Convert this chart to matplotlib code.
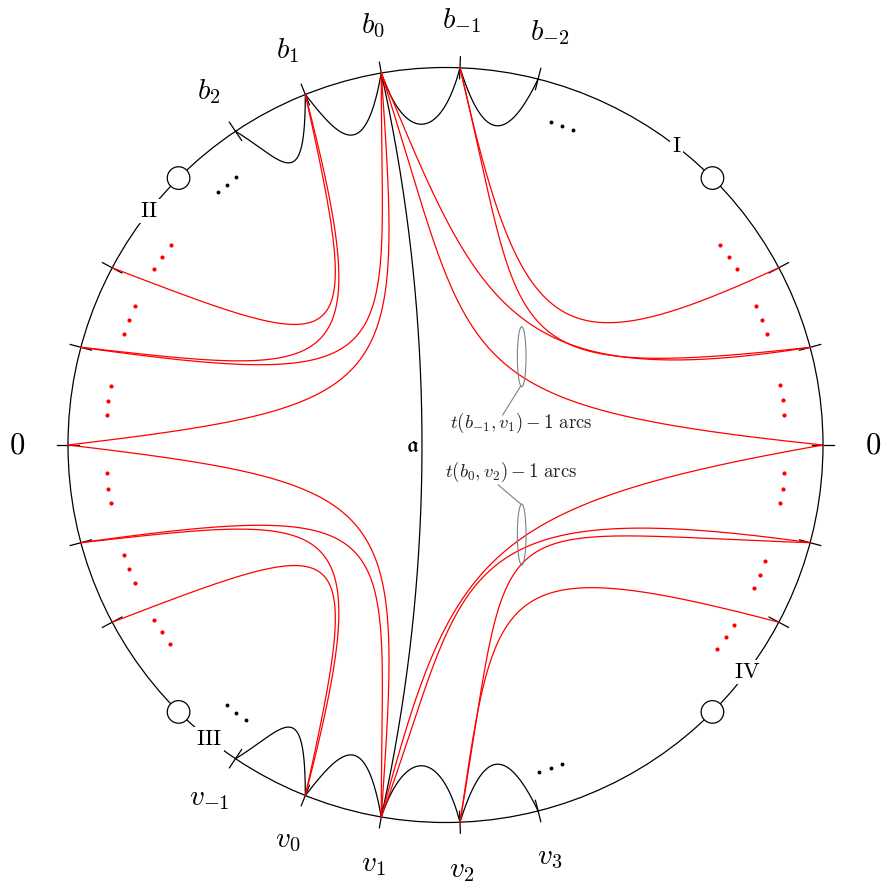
import numpy as np
import matplotlib.pyplot as plt
from matplotlib.patches import Circle, Ellipse

plt.rcParams['mathtext.fontset'] = 'cm'

R = 377.5

# marked points on the boundary circle (degrees)
b_labels = ['$b_2$', '$b_1$', '$b_0$', '$b_{-1}$', '$b_{-2}$']
b_angles = [123.8, 111.8, 99.8, 87.8, 75.8]
v_labels = ['$v_{-1}$', '$v_0$', '$v_1$', '$v_2$', '$v_3$']
v_angles = [236.2, 248.2, 260.2, 272.2, 284.2]
side_angles = [152, 165, 180, 195, 208, 28, 15, 0, -15, -28]
zero_angles = [180, 0]
puncture_angles = [45, 135, 225, 315]
roman_labels = ['I', 'II', 'III', 'IV']
roman_angles = [52.3, 141.7, 231.2, 323]

black_dots = [[68, 70, 72], [128, 130, 132], [230, 232, 234], [286, 288, 290]]
red_dots = [[31.1, 33.6, 36.1], [19.0, 21.6, 24.2], [5.1, 7.6, 10.2],
            [-4.8, -7.4, -9.9], [-19.9, -22.4, -24.9], [-31.9, -34.4, -36.9],
            [143.9, 146.4, 148.9], [155.8, 158.4, 161.0], [170.0, 172.5, 175.0],
            [184.8, 187.4, 189.9], [198.9, 201.4, 204.0], [211.0, 213.4, 215.9]]

# arcs as (from, to, out dir, in dir, out length, in length)
top_loops = [(123.8, 111.8, -31, -90, 55, 105),
             (111.8, 99.8, -52, -100, 55, 95),
             (99.8, 87.8, -71, -104.7, 75, 75),
             (87.8, 75.8, -72.6, -115.8, 75, 75)]
arc_a = (99.8, 260.2, -77.5, 77.5, 251, 251)
left_red = [(111.8, 152, -77.5, -21, 276, 257),
            (111.8, 165, -75.5, -6.4, 300, 260),
            (99.8, 165, -90, -8, 286, 340),
            (99.8, 180, -86, 6.8, 318, 334)]
upper_right_red = [(87.8, 28, -77.3, 204.7, 285, 242),
                   (87.8, 15, -76.5, 186.3, 285, 320),
                   (99.8, 15, -67.4, 189, 257, 303),
                   (99.8, 0, -72.3, 174, 311, 381)]
lower_right_red = [(272.2, -28, 81.5, 165.3, 240, 294),
                   (272.2, -15, 80.5, 178, 328, 336),
                   (260.2, -15, 70, 172, 257, 372),
                   (260.2, 0, 75, 190, 272, 347)]


def pt(a, r=R):
    a = np.radians(a)
    return np.array([r * np.cos(a), r * np.sin(a)])


def mirror(arc):
    a0, a1, o, i, l0, l1 = arc
    return (-a0, -a1, -o, -i, l0, l1)


def bezier(arc, n=300):
    a0, a1, o, i, l0, l1 = arc
    p0, p3 = pt(a0), pt(a1)
    p1 = p0 + l0 * np.array([np.cos(np.radians(o)), np.sin(np.radians(o))])
    p2 = p3 + l1 * np.array([np.cos(np.radians(i)), np.sin(np.radians(i))])
    t = np.linspace(0, 1, n)[:, None]
    c = (1 - t) ** 3 * p0 + 3 * (1 - t) ** 2 * t * p1 + 3 * (1 - t) * t ** 2 * p2 + t ** 3 * p3
    return c[:, 0], c[:, 1]


fig = plt.figure(figsize=(8.81, 8.86), dpi=100)
ax = fig.add_axes([0, 0, 1, 1])
ax.set_xlim(-445.5, 435.5)
ax.set_ylim(-441, 445)
ax.axis('off')

lw = 0.9
ax.add_patch(Circle((0, 0), R, fill=False, ec='black', lw=lw, zorder=1))

# ticks
for a in b_angles + v_angles + side_angles:
    p, q = pt(a, R - 11), pt(a, R + 11)
    ax.plot([p[0], q[0]], [p[1], q[1]], color='black', lw=lw, zorder=2)

# black loops and the arc a
for arc in top_loops + [mirror(x) for x in top_loops] + [arc_a]:
    x, y = bezier(arc)
    ax.plot(x, y, color='black', lw=lw, zorder=2)

# red arcs
for arc in left_red + [mirror(x) for x in left_red] + upper_right_red + lower_right_red:
    x, y = bezier(arc)
    ax.plot(x, y, color='red', lw=lw, zorder=3)

# dots
for g in black_dots:
    p = np.array([pt(a, 340) for a in g])
    ax.plot(p[:, 0], p[:, 1], 'o', color='black', ms=2.8, mew=0, zorder=4)
for g in red_dots:
    p = np.array([pt(a, 340) for a in g])
    ax.plot(p[:, 0], p[:, 1], 'o', color='red', ms=3.0, mew=0, zorder=4)

# punctures
for a in puncture_angles:
    ax.add_patch(Circle(pt(a), 11.3, fc='white', ec='black', lw=lw, zorder=5))
for s, a in zip(roman_labels, roman_angles):
    p = pt(a)
    ax.text(p[0], p[1], r'$\mathrm{%s}$' % s, fontsize=16, ha='center', va='center',
            bbox=dict(fc='white', ec='none', pad=1.5), zorder=6)

# boundary labels
for s, a in zip(b_labels + v_labels, b_angles + v_angles):
    p = pt(a, 425)
    ax.text(p[0], p[1], s, fontsize=21, ha='center', va='center')
for a in zero_angles:
    p = pt(a, 428)
    ax.text(p[0], p[1], '$0$', fontsize=22, ha='center', va='center')

ax.text(-32.5, 0, r'$\mathfrak{a}$', fontsize=17, ha='center', va='center',
        math_fontfamily='stix')

# groups of arcs
gray = '#808080'
ax.add_patch(Ellipse((76.2, 88.3), 8.7, 60, fill=False, ec=gray, lw=0.8, zorder=6))
ax.add_patch(Ellipse((76.2, -89.5), 8.7, 61, fill=False, ec=gray, lw=0.8, zorder=6))
ax.plot([75.2, 57.2], [59, 30], color=gray, lw=0.8)
ax.plot([52.8, 75.2], [-40, -59], color=gray, lw=0.8)
ax.text(75.5, 22, r'$t(b_{-1},v_1)-1\ \mathrm{arcs}$', fontsize=13.5,
        ha='center', va='center', color='#222222')
ax.text(66, -27, r'$t(b_0,v_2)-1\ \mathrm{arcs}$', fontsize=13.5,
        ha='center', va='center', color='#222222')

fig.savefig('out.png', dpi=100)
